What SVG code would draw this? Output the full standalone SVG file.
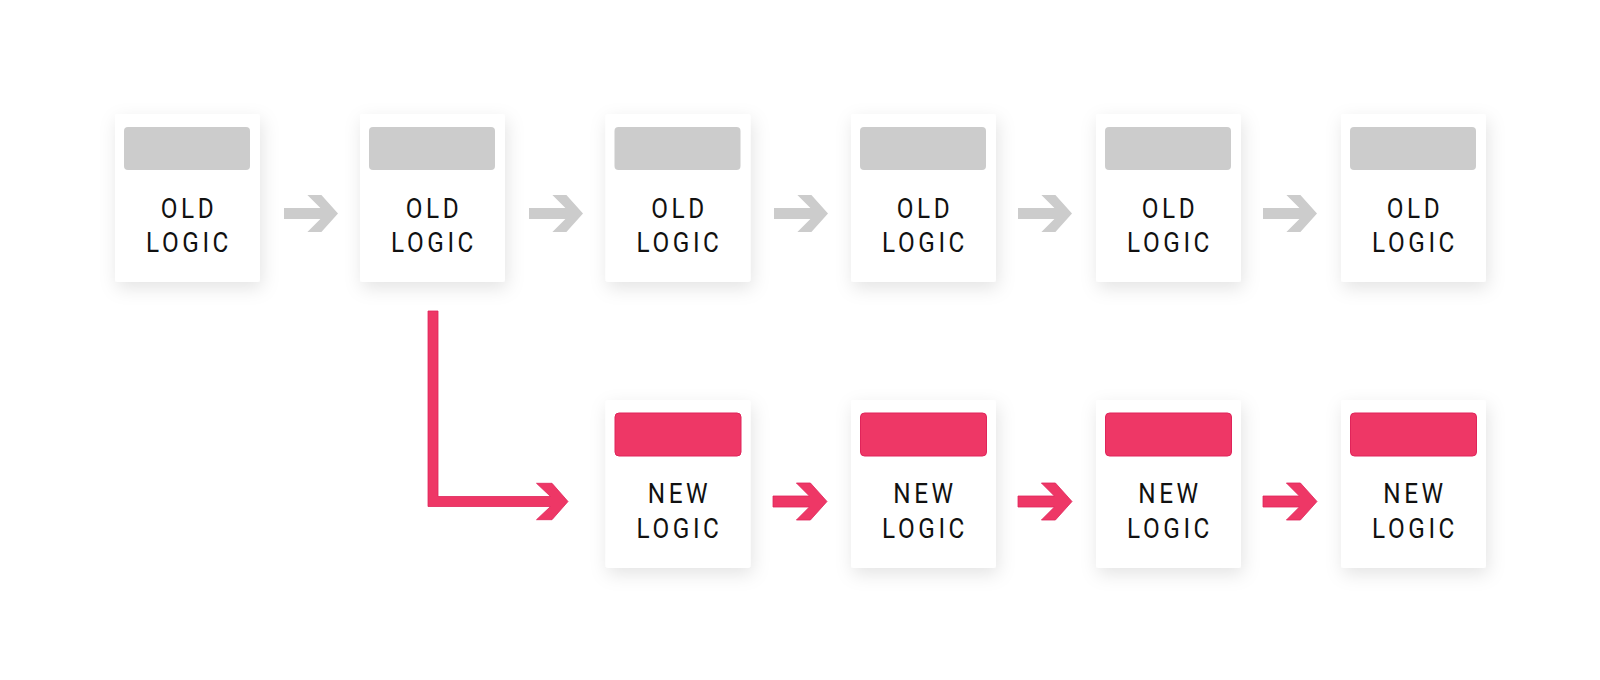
<svg xmlns="http://www.w3.org/2000/svg" width="1600" height="680" viewBox="0 0 1600 680">
  <defs>
    <filter id="sh" x="-30%" y="-30%" width="160%" height="170%">
      <feDropShadow dx="2" dy="6" stdDeviation="9" flood-color="#000" flood-opacity="0.11"/>
    </filter>
    <path id="arr" d="M-54,-5.5 L-17.6,-5.5 L-30.6,-18.5 L-16.6,-18.5 L0,0 L-16.6,18.5 L-30.6,18.5 L-17.6,5.5 L-54,5.5 Z"/>
  </defs>
  <style>
    .card{fill:#ffffff;filter:url(#sh)}
    .bar-old{fill:#cccccc}
    .bar-new{fill:#ee3766;stroke:#e0245a;stroke-width:1}
    .lbl{font-family:Roboto,"Liberation Sans",sans-serif;font-size:27px;fill:#111111;letter-spacing:4px;text-anchor:middle}
    .a-old{fill:#cccccc}
    .a-new{fill:#ee3766;stroke:#e0245a;stroke-width:0.8}
  </style>
  <rect width="1600" height="680" fill="#ffffff"/>

  <g id="connectors">
    <use href="#arr" class="a-old" x="338" y="213.5"/>
    <use href="#arr" class="a-old" x="583" y="213.5"/>
    <use href="#arr" class="a-old" x="828" y="213.5"/>
    <use href="#arr" class="a-old" x="1072" y="213.5"/>
    <use href="#arr" class="a-old" x="1317" y="213.5"/>
    <path class="a-new" d="M428,311 L438,311 L438,496.5 L550.5,496.5 L536.5,483.3 L552,483.3 L568,501.5 L552,519.7 L536.5,519.7 L550.5,506.5 L428,506.5 Z"/>
    <use href="#arr" class="a-new" x="827" y="501.5"/>
    <use href="#arr" class="a-new" x="1072" y="501.5"/>
    <use href="#arr" class="a-new" x="1317" y="501.5"/>
  </g>

  <g id="old1">
    <rect class="card" x="115" y="114" width="145" height="168" rx="3"/>
    <rect class="bar-old" x="124" y="127" width="126" height="43" rx="4"/>
    <text class="lbl" transform="translate(189,217.5) scale(0.9,1)">OLD</text>
    <text class="lbl" transform="translate(189,252) scale(0.9,1)">LOGIC</text>
  </g>
  <g id="old2">
    <rect class="card" x="360" y="114" width="145" height="168" rx="3"/>
    <rect class="bar-old" x="369" y="127" width="126" height="43" rx="4"/>
    <text class="lbl" transform="translate(434,217.5) scale(0.9,1)">OLD</text>
    <text class="lbl" transform="translate(434,252) scale(0.9,1)">LOGIC</text>
  </g>
  <g id="old3">
    <rect class="card" x="605.5" y="114" width="145" height="168" rx="3"/>
    <rect class="bar-old" x="614.5" y="127" width="126" height="43" rx="4"/>
    <text class="lbl" transform="translate(679.5,217.5) scale(0.9,1)">OLD</text>
    <text class="lbl" transform="translate(679.5,252) scale(0.9,1)">LOGIC</text>
  </g>
  <g id="old4">
    <rect class="card" x="851" y="114" width="145" height="168" rx="3"/>
    <rect class="bar-old" x="860" y="127" width="126" height="43" rx="4"/>
    <text class="lbl" transform="translate(925,217.5) scale(0.9,1)">OLD</text>
    <text class="lbl" transform="translate(925,252) scale(0.9,1)">LOGIC</text>
  </g>
  <g id="old5">
    <rect class="card" x="1096" y="114" width="145" height="168" rx="3"/>
    <rect class="bar-old" x="1105" y="127" width="126" height="43" rx="4"/>
    <text class="lbl" transform="translate(1170,217.5) scale(0.9,1)">OLD</text>
    <text class="lbl" transform="translate(1170,252) scale(0.9,1)">LOGIC</text>
  </g>
  <g id="old6">
    <rect class="card" x="1341" y="114" width="145" height="168" rx="3"/>
    <rect class="bar-old" x="1350" y="127" width="126" height="43" rx="4"/>
    <text class="lbl" transform="translate(1415,217.5) scale(0.9,1)">OLD</text>
    <text class="lbl" transform="translate(1415,252) scale(0.9,1)">LOGIC</text>
  </g>

  <g id="new1">
    <rect class="card" x="605.5" y="400" width="145" height="168" rx="3"/>
    <rect class="bar-new" x="615" y="413" width="126" height="43" rx="4"/>
    <text class="lbl" transform="translate(679.5,502.5) scale(0.9,1)">NEW</text>
    <text class="lbl" transform="translate(679.5,537.5) scale(0.9,1)">LOGIC</text>
  </g>
  <g id="new2">
    <rect class="card" x="851" y="400" width="145" height="168" rx="3"/>
    <rect class="bar-new" x="860.5" y="413" width="126" height="43" rx="4"/>
    <text class="lbl" transform="translate(925,502.5) scale(0.9,1)">NEW</text>
    <text class="lbl" transform="translate(925,537.5) scale(0.9,1)">LOGIC</text>
  </g>
  <g id="new3">
    <rect class="card" x="1096" y="400" width="145" height="168" rx="3"/>
    <rect class="bar-new" x="1105.5" y="413" width="126" height="43" rx="4"/>
    <text class="lbl" transform="translate(1170,502.5) scale(0.9,1)">NEW</text>
    <text class="lbl" transform="translate(1170,537.5) scale(0.9,1)">LOGIC</text>
  </g>
  <g id="new4">
    <rect class="card" x="1341" y="400" width="145" height="168" rx="3"/>
    <rect class="bar-new" x="1350.5" y="413" width="126" height="43" rx="4"/>
    <text class="lbl" transform="translate(1415,502.5) scale(0.9,1)">NEW</text>
    <text class="lbl" transform="translate(1415,537.5) scale(0.9,1)">LOGIC</text>
  </g>
</svg>
